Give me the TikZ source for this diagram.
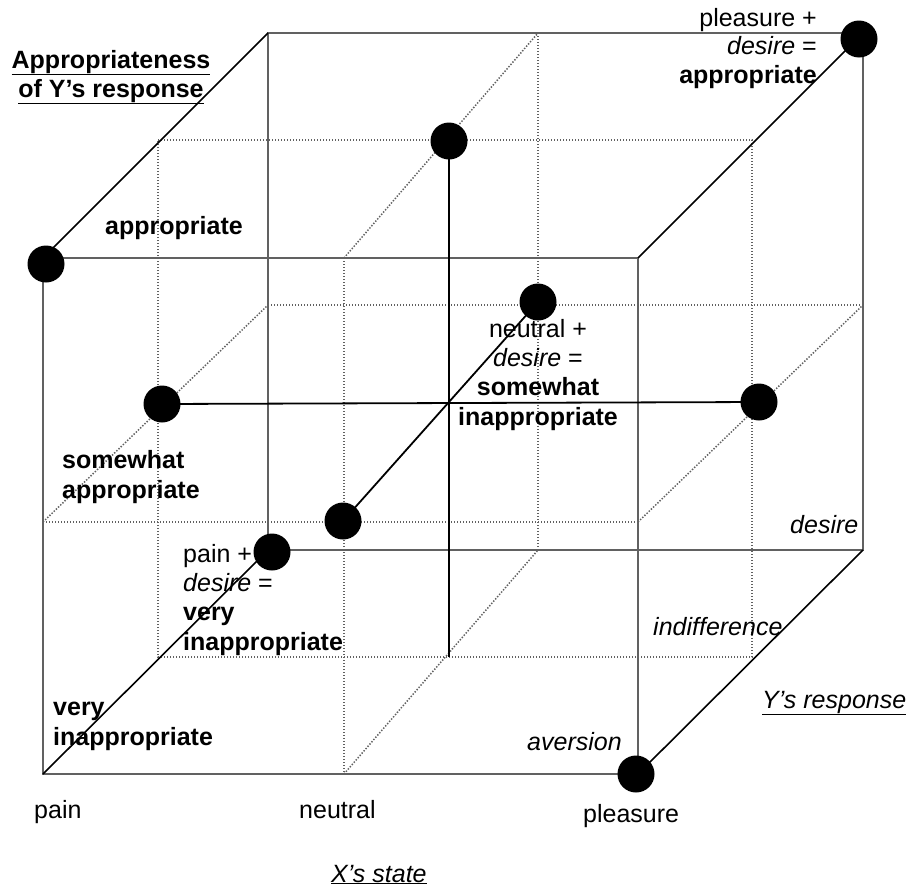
\documentclass[tikz,border=0pt]{standalone}
\usepackage{fontspec}
\setmainfont{Liberation Sans}
\begin{document}
\begin{tikzpicture}[x=1pt,y=-1pt,
  frame/.style={draw=black!62,line width=2.2pt},
  depth/.style={draw=black,line width=1.6pt},
  axis/.style={draw=black,line width=1.8pt},
  grid/.style={draw=black!62,line width=1.5pt,dash pattern=on 1.4pt off 1.6pt},
  dot/.style={circle,fill=black,inner sep=0pt,minimum size=37pt},
  lbl/.style={inner sep=0pt,font=\fontsize{25}{29.3}\selectfont}]
\useasboundingbox (0,0) rectangle (911,889);

% corners of the cube
\coordinate (F1) at (43,258);  \coordinate (F2) at (638,258);
\coordinate (F3) at (638,774); \coordinate (F4) at (43,774);
\coordinate (B1) at (268,33);  \coordinate (B2) at (863,33);
\coordinate (B3) at (863,550); \coordinate (B4) at (268,550);
% middle depth plane
\coordinate (M1) at (158,140); \coordinate (M2) at (752,140);
\coordinate (M3) at (752,657); \coordinate (M4) at (158,657);
% middle lines of front and back faces
\coordinate (FT) at (344,258); \coordinate (FB) at (344,774);
\coordinate (BT) at (538,33);  \coordinate (BB) at (538,550);
\coordinate (FL) at (43,522);  \coordinate (FR) at (638,522);
\coordinate (BL) at (268,305); \coordinate (BR) at (863,305);
\coordinate (CB) at (449,657);

% dotted grid planes
\draw[grid] (M1) -- (M2) -- (M3) -- (M4) -- cycle;
\draw[grid] (FT) -- (FB);
\draw[grid] (BT) -- (BB);
\draw[grid] (FT) -- (BT);
\draw[grid] (FB) -- (BB);
\draw[grid] (FL) -- (FR);
\draw[grid] (BL) -- (BR);
\draw[grid] (FL) -- (BL);
\draw[grid] (FR) -- (BR);

% cube faces and edges
\draw[frame] (B1) -- (B2) -- (B3) -- (B4) -- cycle;
\draw[frame] (F1) -- (F2) -- (F3) -- (F4) -- cycle;
\draw[depth] (F1) -- (B1);
\draw[depth] (F2) -- (B2);
\draw[depth] (F3) -- (B3);
\draw[depth] (F4) -- (B4);

% points
\node[dot] (d1) at (46,264) {};
\node[dot] (d2) at (449,141) {};
\node[dot] (d3) at (859,39) {};
\node[dot] (d4) at (538,302) {};
\node[dot] (d5) at (162,404) {};
\node[dot] (d6) at (759,402) {};
\node[dot] (d7) at (343,521) {};
\node[dot] (d8) at (272,552) {};
\node[dot] (d9) at (636,774) {};

% central axes
\draw[axis] (d2.center) -- (CB);
\draw[axis] (d5.center) -- (d6.center);
\draw[axis] (d7.center) -- (d4.center);

% labels (multi-line nodes are placed by the baseline of their last line)
\node[lbl,anchor=base,align=center,font=\fontsize{25}{29}\selectfont\bfseries] (title) at (111,97)
  {\underline{Appropriateness}\\\underline{of Y’s response}};
\node[lbl,anchor=base west,font=\fontsize{25}{29}\selectfont\bfseries] (appr) at (105,234) {appropriate};
\node[lbl,anchor=base east,align=right,font=\fontsize{25}{28.5}\selectfont] (plDes) at (817,83)
  {pleasure +\\\textit{desire} =\\\textbf{appropriate}};
\node[lbl,anchor=base,align=center] (neDes) at (538,425)
  {neutral +\\\textit{desire} =\\\textbf{somewhat}\\\textbf{inappropriate}};
\node[lbl,anchor=base west,align=left,font=\fontsize{25}{30}\selectfont\bfseries] (swAppr) at (62,498)
  {somewhat\\appropriate};
\node[lbl,anchor=base west,align=left] (paDes) at (183,650)
  {pain +\\\textit{desire} =\\\textbf{very}\\\textbf{inappropriate}};
\node[lbl,anchor=base west,align=left,font=\fontsize{25}{30}\selectfont\bfseries] (vInappr) at (53,745)
  {very\\inappropriate};
\node[lbl,anchor=base west] (pain) at (34,818) {pain};
\node[lbl,anchor=base west] (neutral) at (299,818) {neutral};
\node[lbl,anchor=base west] (pleasure) at (583,822) {pleasure};
\node[lbl,anchor=base west,font=\fontsize{25}{29}\selectfont\itshape] (xstate) at (331,882) {\underline{X’s state}};
\node[lbl,anchor=base west,font=\fontsize{25}{29}\selectfont\itshape] (yresp) at (762,708) {\underline{Y’s response}};
\node[lbl,anchor=base west,font=\fontsize{25}{29}\selectfont\itshape] (aversion) at (527,750) {aversion};
\node[lbl,anchor=base west,font=\fontsize{25}{29}\selectfont\itshape] (indiff) at (653,635) {indifference};
\node[lbl,anchor=base west,font=\fontsize{25}{29}\selectfont\itshape] (desire) at (790,533) {desire};
\end{tikzpicture}
\end{document}
